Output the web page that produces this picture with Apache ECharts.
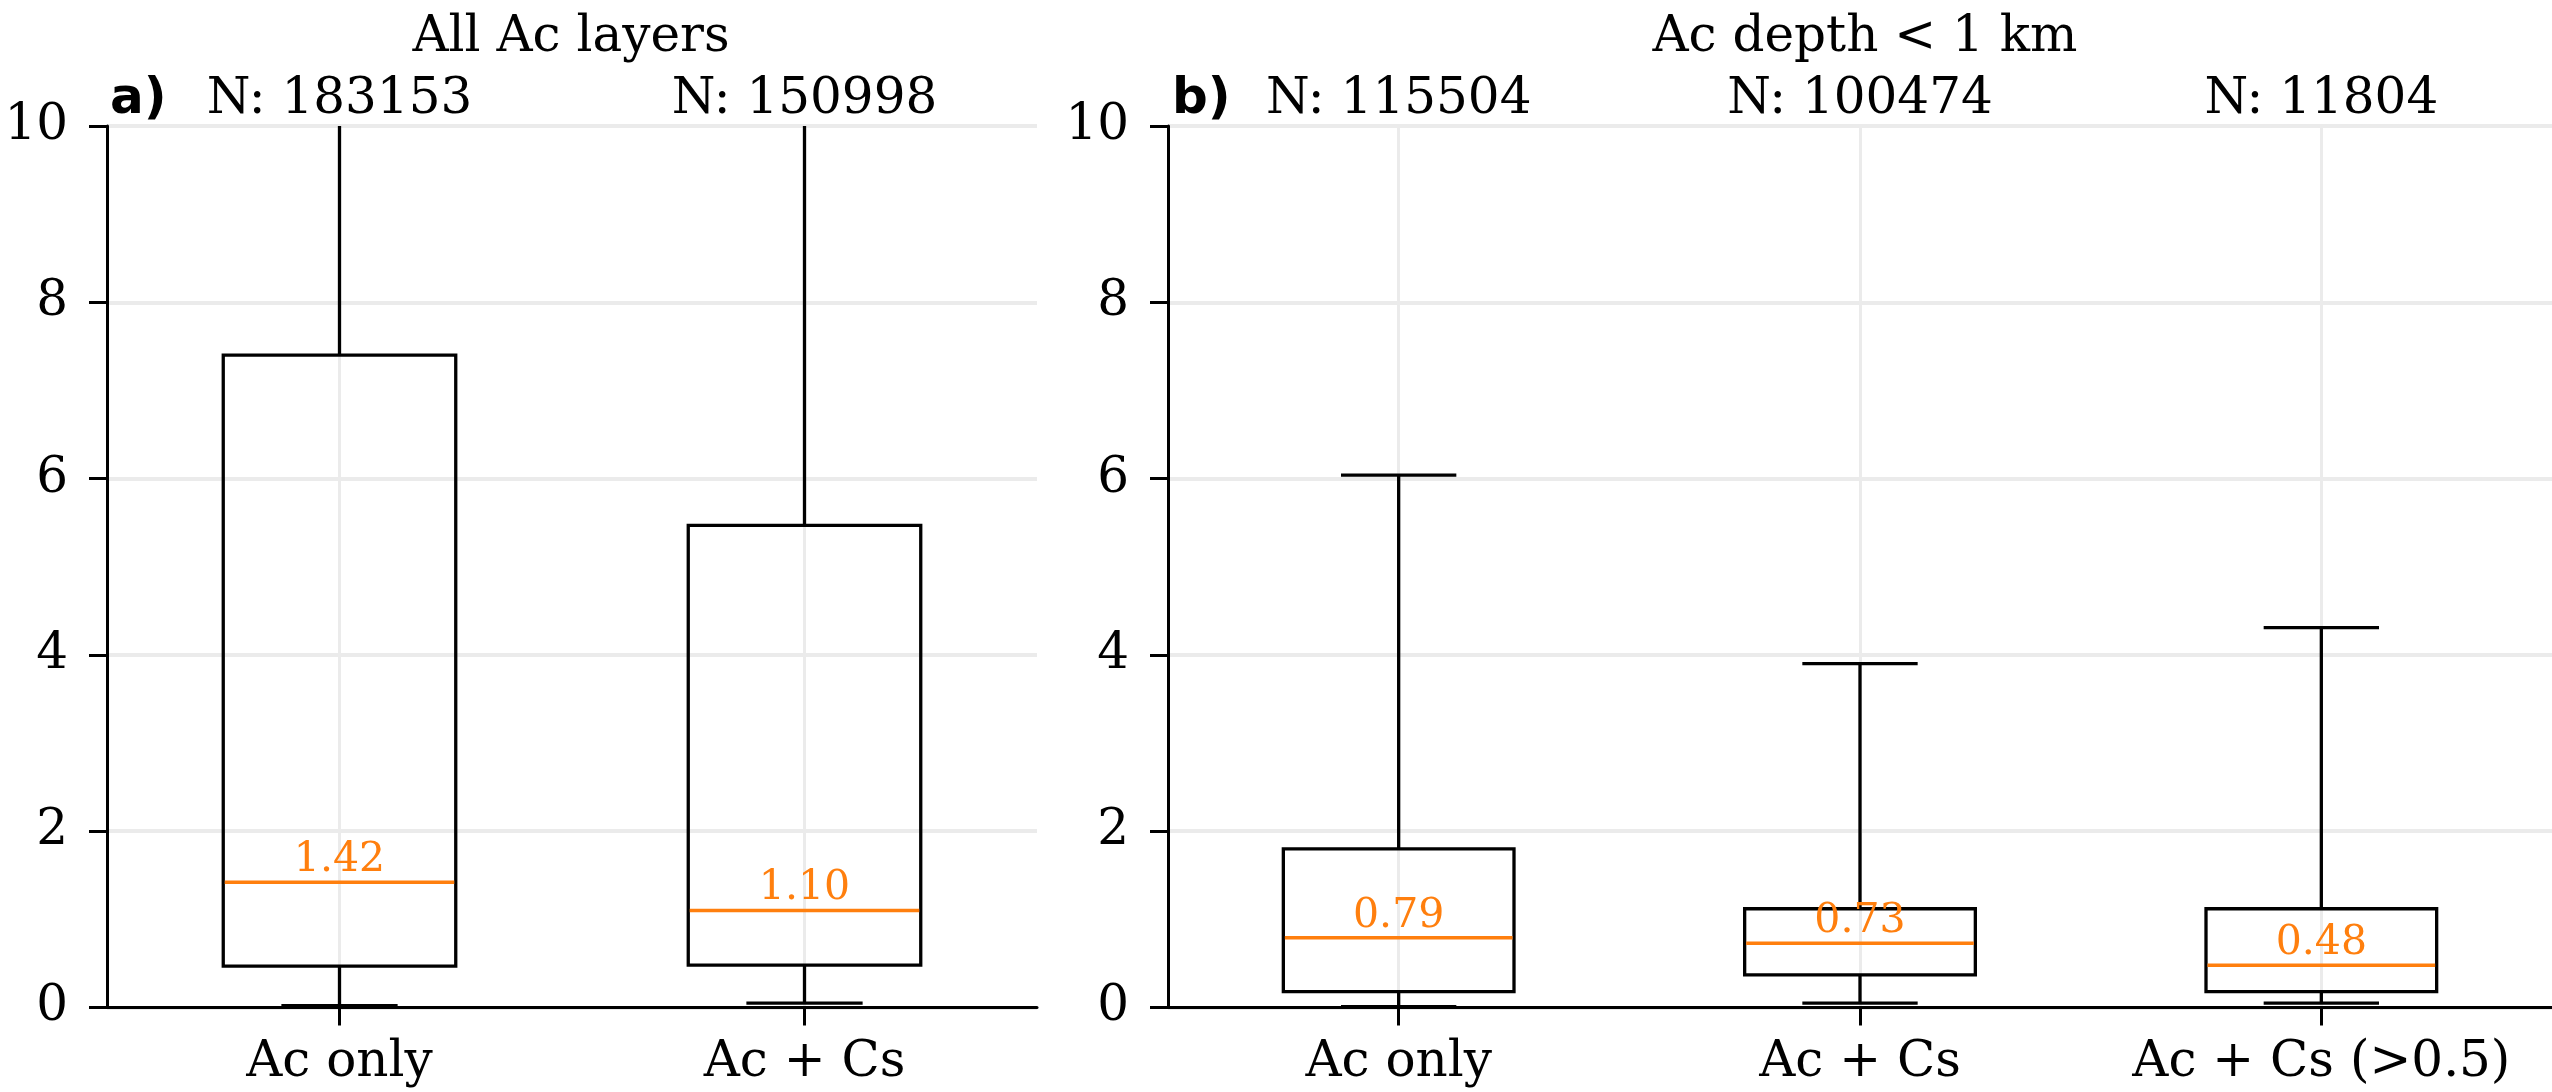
<!DOCTYPE html>
<html>
<head>
<meta charset="utf-8">
<script src="https://cdn.jsdelivr.net/npm/echarts@6/dist/echarts.min.js"></script>
<style>
html,body{margin:0;padding:0;background:#fff;}
#chart{width:2552px;height:1092px;}
</style>
</head>
<body>
<div id="chart"></div>
<script>
// ---- data ----
const panelTitles = ['All Ac layers', 'Ac depth < 1 km'];
const panelTags = ['a)', 'b)'];
const yTicks = { min: 0, max: 10, interval: 2 };

const catsA = ['Ac only', 'Ac + Cs'];
const countsA = [183153, 150998];
const lowA = [0.02, 0.05];
const q1A = [0.47, 0.48];
const medA = [1.42, 1.10];
const q3A = [7.40, 5.47];
const highA = [14.0, 12.5];   // whiskers run beyond the 0-10 view

const catsB = ['Ac only', 'Ac + Cs', 'Ac + Cs (>0.5)'];
const countsB = [115504, 100474, 11804];
const lowB = [0.01, 0.05, 0.05];
const q1B = [0.18, 0.37, 0.18];
const medB = [0.79, 0.73, 0.48];
const q3B = [1.80, 1.12, 1.12];
const highB = [6.04, 3.90, 4.31];

// ---- chart ----
const SERIF = "'DejaVu Serif', serif";
const FS = 50;
const ORANGE = '#ff7f0e';
const GRIDC = '#ebebeb';

function rows(cats, low, q1, med, q3, high) {
  return cats.map((c, i) => [i, low[i], q1[i], med[i], q3[i], high[i]]);
}

function renderBox(params, api) {
  const xi = api.value(0);
  const low = api.value(1), q1 = api.value(2), med = api.value(3), q3 = api.value(4), high = api.value(5);
  const cx = api.coord([xi, med])[0];
  const yLow = api.coord([xi, low])[1];
  const yQ1 = api.coord([xi, q1])[1];
  const yMed = api.coord([xi, med])[1];
  const yQ3 = api.coord([xi, q3])[1];
  const yHigh = api.coord([xi, high])[1];
  const band = api.size([1, 0])[0];
  const bw = band * 0.5;
  const cw = bw * 0.5;
  const ls = { stroke: '#000', lineWidth: 3.3 };
  return {
    type: 'group',
    children: [
      { type: 'line', shape: { x1: cx, y1: yQ3, x2: cx, y2: yHigh }, style: ls },
      { type: 'line', shape: { x1: cx, y1: yQ1, x2: cx, y2: yLow }, style: ls },
      { type: 'line', shape: { x1: cx - cw / 2, y1: yHigh, x2: cx + cw / 2, y2: yHigh }, style: ls },
      { type: 'line', shape: { x1: cx - cw / 2, y1: yLow, x2: cx + cw / 2, y2: yLow }, style: ls },
      { type: 'rect', shape: { x: cx - bw / 2, y: yQ3, width: bw, height: yQ1 - yQ3 },
        style: { fill: 'none', stroke: '#000', lineWidth: 3.3 } },
      { type: 'line', shape: { x1: cx - bw / 2 + 1.5, y1: yMed, x2: cx + bw / 2 - 1.5, y2: yMed },
        style: { stroke: ORANGE, lineWidth: 3.5 } },
      { type: 'text', x: cx, y: yMed - 22,
        style: { text: med.toFixed(2), fill: ORANGE, font: '41px ' + SERIF, align: 'center', verticalAlign: 'middle' } }
    ]
  };
}

function bottomAxis(gi, cats) {
  return {
    type: 'category', gridIndex: gi, data: cats, position: 'bottom',
    axisLine: { show: true, lineStyle: { color: '#000', width: 3 } },
    axisTick: { show: true, alignWithLabel: true, interval: 0, length: 18, lineStyle: { color: '#000', width: 3 } },
    axisLabel: { color: '#000', fontFamily: SERIF, fontSize: FS, margin: 31, interval: 0, hideOverlap: false },
    splitLine: { show: true, alignWithLabel: true, interval: 0, lineStyle: { color: GRIDC, width: 3 } }
  };
}
function topAxis(gi, counts) {
  return {
    type: 'category', gridIndex: gi, data: counts.map(n => 'N: ' + n), position: 'top',
    axisLine: { show: false }, axisTick: { show: false }, splitLine: { show: false },
    axisLabel: { color: '#000', fontFamily: SERIF, fontSize: FS, margin: 1, interval: 0, hideOverlap: false }
  };
}
function valueAxis(gi) {
  return {
    type: 'value', gridIndex: gi, min: yTicks.min, max: yTicks.max, interval: yTicks.interval,
    axisLine: { show: true, lineStyle: { color: '#000', width: 3 } },
    axisTick: { show: true, length: 18, lineStyle: { color: '#000', width: 3 } },
    axisLabel: { color: '#000', fontFamily: SERIF, fontSize: FS, margin: 39 },
    splitLine: { show: true, lineStyle: { color: GRIDC, width: 4 } }
  };
}

const chart = echarts.init(document.getElementById('chart'), null, { renderer: 'canvas' });
chart.setOption({
  backgroundColor: '#fff',
  animation: false,
  grid: [
    { left: 107, top: 126, width: 930, height: 881.5, containLabel: false },
    { left: 1168, top: 126, width: 1395, height: 881.5, containLabel: false }
  ],
  xAxis: [bottomAxis(0, catsA), topAxis(0, countsA), bottomAxis(1, catsB), topAxis(1, countsB)],
  yAxis: [valueAxis(0), valueAxis(1)],
  graphic: [
    { type: 'text', x: 571, y: 38, style: { text: panelTitles[0], font: FS + 'px ' + SERIF, fill: '#000', align: 'center', verticalAlign: 'middle' } },
    { type: 'text', x: 1865, y: 38, style: { text: panelTitles[1], font: FS + 'px ' + SERIF, fill: '#000', align: 'center', verticalAlign: 'middle' } },
    { type: 'text', x: 110, y: 100, style: { text: panelTags[0], font: "bold 50px 'DejaVu Sans', sans-serif", fill: '#000', align: 'left', verticalAlign: 'middle' } },
    { type: 'text', x: 1172, y: 100, style: { text: panelTags[1], font: "bold 50px 'DejaVu Sans', sans-serif", fill: '#000', align: 'left', verticalAlign: 'middle' } }
  ],
  series: [
    { type: 'custom', xAxisIndex: 0, yAxisIndex: 0, clip: true, renderItem: renderBox,
      encode: { x: 0, y: [1, 2, 3, 4, 5] }, data: rows(catsA, lowA, q1A, medA, q3A, highA) },
    { type: 'custom', xAxisIndex: 2, yAxisIndex: 1, clip: true, renderItem: renderBox,
      encode: { x: 0, y: [1, 2, 3, 4, 5] }, data: rows(catsB, lowB, q1B, medB, q3B, highB) }
  ]
});
</script>
</body>
</html>
